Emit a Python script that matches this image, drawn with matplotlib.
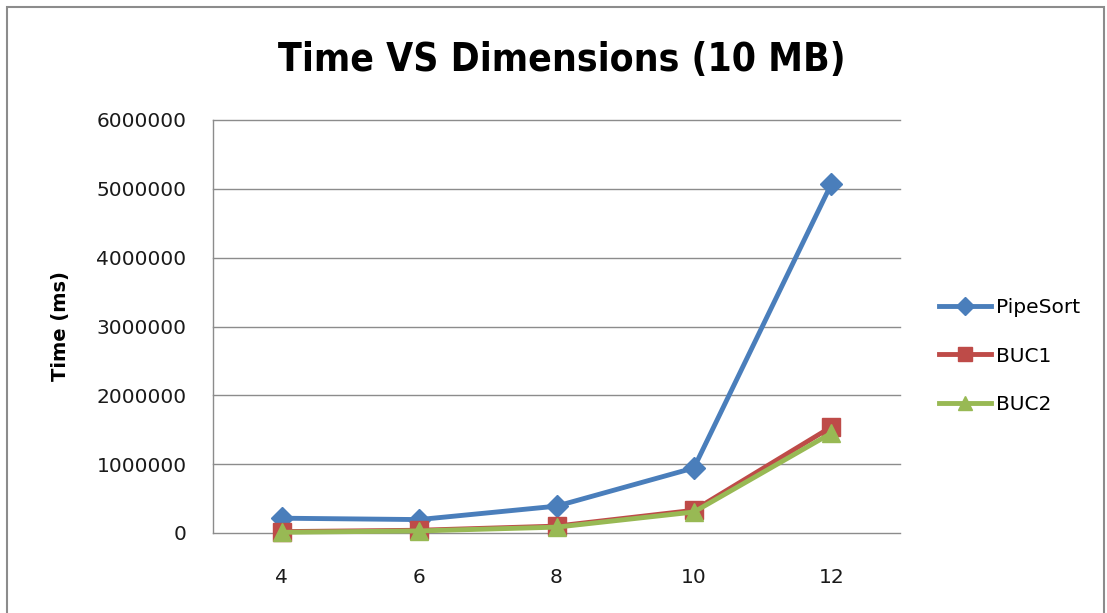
import matplotlib
matplotlib.use("Agg")
import matplotlib.pyplot as plt
from matplotlib.patches import Rectangle

categories = ["4", "6", "8", "10", "12"]
pipesort = [215000, 195000, 390000, 945000, 5070000]
buc1 = [20000, 40000, 100000, 330000, 1540000]
buc2 = [10000, 30000, 85000, 305000, 1450000]
yticks = [0, 1000000, 2000000, 3000000, 4000000, 5000000, 6000000]

W, H = 1107, 613
fig = plt.figure(figsize=(W / 100, H / 100), dpi=100)
font = "DejaVu Sans"

# outer frame
fig.patches.append(Rectangle((7 / W, -0.1), (1104 - 7) / W, 1.1 - 7 / H,
                             transform=fig.transFigure, fill=False,
                             edgecolor="#8c8c8c", linewidth=1.5))

left, right, top, bottom = 213, 900, 120, 533
ax = fig.add_axes([left / W, 1 - bottom / H, (right - left) / W, (bottom - top) / H])

x = list(range(len(categories)))
ax.plot(x, pipesort, color="#4A7EBB", lw=3.5, marker="D", ms=11, label="PipeSort", zorder=3, clip_on=False)
ax.plot(x, buc1, color="#BE4B48", lw=3.5, marker="s", ms=13, label="BUC1", zorder=4, clip_on=False)
ax.plot(x, buc2, color="#98B954", lw=3.5, marker="^", ms=13, label="BUC2", zorder=5, clip_on=False)

ax.set_xlim(-0.5, len(categories) - 0.5)
ax.set_ylim(0, 6000000)
ax.set_xticks(x)
ax.set_xticklabels(categories)
ax.set_yticks(yticks)
ax.set_yticklabels([str(v) for v in yticks])
ax.tick_params(axis="both", length=0, labelsize=14.5, labelcolor="#1a1a1a")
ax.tick_params(axis="y", pad=19)
ax.tick_params(axis="x", pad=25)
for lab in ax.get_xticklabels() + ax.get_yticklabels():
    lab.set_fontfamily(font)

for v in yticks:
    ax.axhline(v, color="#8c8c8c", lw=1.0, zorder=1, clip_on=False)
for s in ["top", "right", "bottom"]:
    ax.spines[s].set_visible(False)
ax.spines["left"].set_color("#8c8c8c")
ax.spines["left"].set_linewidth(1.0)

ax.set_ylabel("Time (ms)", fontsize=14, fontweight="bold", family=font, labelpad=19)

fig.text(562 / W, 1 - 60 / H, "Time VS Dimensions (10 MB)", ha="center", va="center",
         fontsize=28, fontweight="bold", family=font, fontstretch="condensed")

leg = ax.legend(loc="center left", bbox_to_anchor=(921 / W, 1 - 356 / H),
                bbox_transform=fig.transFigure, frameon=False,
                prop={"family": font, "size": 14.5}, handlelength=2.6,
                handletextpad=0.2, labelspacing=1.47, markerscale=0.8)

fig.savefig("out.png", dpi=100)
